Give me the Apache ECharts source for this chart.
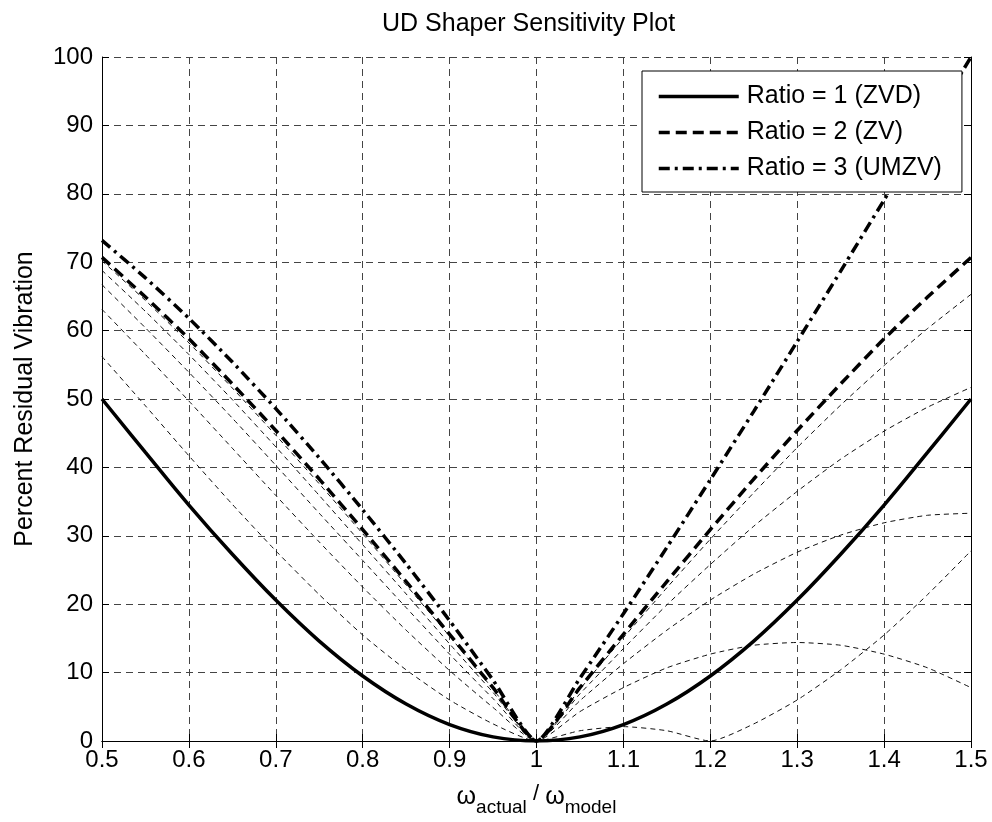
<!DOCTYPE html>
<html><head><meta charset="utf-8">
<script src="https://cdn.jsdelivr.net/npm/echarts@6/dist/echarts.min.js"></script>
<style>html,body{margin:0;padding:0;background:#fff}#c{width:992px;height:822px}</style>
</head><body><div id="c"></div>
<script>
// frequency ratio samples (omega_actual / omega_model)
const ratioX = [0.5,0.55,0.6,0.65,0.7,0.75,0.8,0.85,0.9,0.95,1,1.05,1.1,1.15,1.2,1.25,1.3,1.35,1.4,1.45,1.5];
// thick curves (legend)
const ratio1ZVD  = [50.0,42.2,34.5,27.3,20.6,14.6,9.5,5.4,2.4,0.6,0,0.6,2.4,5.4,9.5,14.6,20.6,27.3,34.5,42.2,50.0];
const ratio2ZV   = [70.7,64.9,58.8,52.2,45.4,38.3,30.9,23.3,15.6,7.8,0,7.8,15.6,23.3,30.9,38.3,45.4,52.2,58.8,64.9,70.7];
const ratio3UMZV = [73.2,67.7,61.8,55.4,48.6,41.4,33.8,25.9,17.6,8.9,0,9.2,18.6,28.3,38.2,48.2,58.4,68.7,79.1,89.5,100];
// thin intermediate curves
const ratio1p1 = [56.2,49.0,41.7,34.6,27.8,21.4,15.5,10.4,6.0,2.5,0,1.5,2.1,1.5,0,2.5,6.0,10.4,15.5,21.4,27.8];
const ratio1p3 = [63.1,56.5,49.7,42.8,35.9,29.1,22.5,16.2,10.3,4.9,0,4.3,7.8,10.7,12.7,14.0,14.4,14.0,12.7,10.7,7.8];
const ratio1p5 = [66.7,60.4,53.9,47.2,40.3,33.3,26.4,19.5,12.7,6.2,0,5.9,11.3,16.2,20.6,24.4,27.6,30.1,31.9,33.0,33.3];
const ratio1p7 = [68.8,62.8,56.5,49.9,43.0,35.9,28.7,21.5,14.2,7.1,0,6.9,13.5,19.9,25.8,31.4,36.5,41.2,45.3,48.8,51.7];
const ratio1p9 = [70.2,64.4,58.2,51.6,44.7,37.6,30.3,22.8,15.3,7.6,0,7.6,15.1,22.4,29.5,36.3,42.9,49.1,54.9,60.3,65.3];
// tick labels
const xTicks = [0.5,0.6,0.7,0.8,0.9,1,1.1,1.2,1.3,1.4,1.5];
const yTicks = [0,10,20,30,40,50,60,70,80,90,100];
const legendNames = ['Ratio = 1 (ZVD)','Ratio = 2 (ZV)','Ratio = 3 (UMZV)'];

const FONT = "'Liberation Sans', Arial, Helvetica, sans-serif";
const pts = v => ratioX.map((x,i)=>[x, v[i]]);
const thinStyle = {color:'#111', width:1, type:[5,4]};
const thin = (name, v) => ({name, type:'line', data:pts(v), symbol:'none', showSymbol:false, smooth:0.2, silent:true, lineStyle:thinStyle, z:2});

const chart = echarts.init(document.getElementById('c'), null, {renderer:'canvas'});
const axisCommon = {
  axisLine:{show:true, lineStyle:{color:'#000', width:1}},
  axisTick:{show:true, inside:true, length:7, lineStyle:{color:'#000', width:1}}
};
chart.setOption({
  animation:false,
  backgroundColor:'#fff',
  color:['#000'],
  title:{text:'UD Shaper Sensitivity Plot', left:377, top:7,
    textStyle:{fontSize:25, fontWeight:'normal', color:'#000', fontFamily:FONT}},
  grid:{left:102, right:21, top:57, bottom:81},
  legend:{data:legendNames, orient:'vertical', left:642, top:71,
    itemWidth:80, itemHeight:25, itemGap:11, padding:[13,20,11,15],
    borderColor:'#000', borderWidth:1, backgroundColor:'#fff', borderRadius:0,
    itemStyle:{opacity:0, borderWidth:0},
    lineStyle:{width:3.5, color:'#000'},
    textStyle:{fontSize:25, color:'#000', fontFamily:FONT, padding:[0,0,0,3]}, selectedMode:false},
  xAxis:[
    Object.assign({type:'value', min:xTicks[0], max:xTicks[xTicks.length-1], interval:0.1, position:'bottom',
      axisLabel:{fontSize:24, color:'#000', fontFamily:FONT, margin:7},
      splitLine:{show:true, lineStyle:{color:'#444', width:1, type:[7,5]}},
      name:'{w|ω}{s|actual}{sl| / }{w|ω}{s|model}', nameLocation:'middle', nameGap:37,
      nameTextStyle:{color:'#000', fontFamily:FONT, rich:{
        w:{fontSize:25, color:'#000', fontFamily:FONT},
        s:{fontSize:19, color:'#000', fontFamily:FONT, padding:[20,0,0,0]},
        sl:{fontSize:22, color:'#000', fontFamily:FONT, padding:[0,0,8,0]}
      }}}, axisCommon),
    Object.assign({type:'value', min:xTicks[0], max:xTicks[xTicks.length-1], interval:0.1, position:'top',
      axisLabel:{show:false}, splitLine:{show:false}}, axisCommon)
  ],
  yAxis:[
    Object.assign({type:'value', min:yTicks[0], max:yTicks[yTicks.length-1], interval:10, position:'left',
      axisLabel:{fontSize:24, color:'#000', fontFamily:FONT, margin:9},
      splitLine:{show:true, lineStyle:{color:'#444', width:1, type:[7,5]}},
      name:'Percent Residual Vibration', nameLocation:'middle', nameGap:64,
      nameTextStyle:{fontSize:25, color:'#000', fontFamily:FONT}}, axisCommon),
    Object.assign({type:'value', min:yTicks[0], max:yTicks[yTicks.length-1], interval:10, position:'right',
      axisLabel:{show:false}, splitLine:{show:false}}, axisCommon)
  ],
  series:[
    thin('Ratio = 1.1', ratio1p1),
    thin('Ratio = 1.3', ratio1p3),
    thin('Ratio = 1.5', ratio1p5),
    thin('Ratio = 1.7', ratio1p7),
    thin('Ratio = 1.9', ratio1p9),
    {name:legendNames[0], type:'line', data:pts(ratio1ZVD), symbol:'none', showSymbol:false, smooth:0.4, silent:true,
      lineStyle:{color:'#000', width:3.5, type:'solid'}, z:3},
    {name:legendNames[1], type:'line', data:pts(ratio2ZV), symbol:'none', showSymbol:false, smooth:0.2, silent:true,
      lineStyle:{color:'#000', width:3.5, type:[11,6]}, z:3},
    {name:legendNames[2], type:'line', data:pts(ratio3UMZV), symbol:'none', showSymbol:false, smooth:0.2, silent:true,
      lineStyle:{color:'#000', width:3.5, type:[11,5,3,5]}, z:3}
  ]
});
</script>
</body></html>
